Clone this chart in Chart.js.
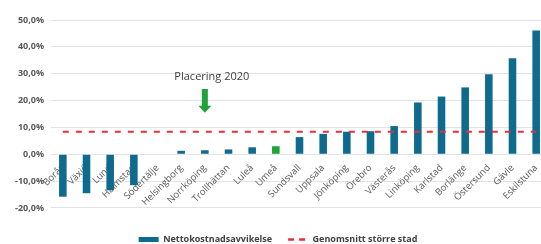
<!DOCTYPE html>
<html>
<head>
<meta charset="utf-8">
<script src="https://cdn.jsdelivr.net/npm/chart.js@4/dist/chart.umd.min.js"></script>
<style>
  html, body { margin: 0; padding: 0; background: #ffffff; overflow: hidden; }
  #wrap { position: relative; width: 548px; height: 244px; }
</style>
</head>
<body>
<div id="wrap"><canvas id="grafico"></canvas></div>
<script>
const kommuner = [
  "Borås", "Växjö", "Lund", "Halmstad", "Södertälje", "Helsingborg", "Norrköping",
  "Trollhättan", "Luleå", "Umeå", "Sundsvall", "Uppsala", "Jönköping", "Örebro",
  "Västerås", "Linköping", "Karlstad", "Borlänge", "Östersund", "Gävle", "Eskilstuna",
];
const avvikelse = [
  -15.8, -14.5, -13.4, -11.5, 0.0, 1.3, 1.5,
  1.8, 2.6, 3.0, 6.4, 7.6, 8.4, 8.6,
  10.5, 19.3, 21.5, 24.9, 29.8, 35.8, 46.1,
];
const genomsnitt = 8.4;
const yTicks = [-20, -10, 0, 10, 20, 30, 40, 50];
const markerad = "Umeå";
const placeringKommun = "Norrköping";
const placeringText = "Placering 2020";

const blaa = "#0f6b8e";
const gron = "#1fa33a";
const rod = "#e3313b";
const textFarg = "#595959";

const formatoProcent = (v) => v.toFixed(1).replace(".", ",") + "%";

const pluginPlacering = {
  id: "pluginPlacering",
  afterDatasetsDraw(chart) {
    const { ctx, scales } = chart;
    const x = scales.x.getPixelForValue(kommuner.indexOf(placeringKommun));
    const yText = scales.y.getPixelForValue(29);
    const yStart = scales.y.getPixelForValue(24.3);
    const yTip = scales.y.getPixelForValue(15.5);
    const headH = 7;

    ctx.save();
    ctx.font = "11px 'Open Sans'";
    ctx.fillStyle = "#404040";
    ctx.textAlign = "center";
    ctx.textBaseline = "middle";
    ctx.fillText(placeringText, x + 7, yText);

    ctx.fillStyle = gron;
    ctx.beginPath();
    ctx.moveTo(x - 3, yStart);
    ctx.lineTo(x + 3, yStart);
    ctx.lineTo(x + 3, yTip - headH);
    ctx.lineTo(x + 6.5, yTip - headH);
    ctx.lineTo(x, yTip);
    ctx.lineTo(x - 6.5, yTip - headH);
    ctx.lineTo(x - 3, yTip - headH);
    ctx.closePath();
    ctx.fill();
    ctx.restore();
  },
};

new Chart(document.getElementById("grafico").getContext("2d"), {
  data: {
    labels: kommuner,
    datasets: [
      {
        type: "line",
        label: "Genomsnitt större stad",
        data: kommuner.map(() => genomsnitt),
        borderColor: rod,
        borderWidth: 2,
        borderDash: [6, 7],
        pointRadius: 0,
        fill: false,
        order: 0,
      },
      {
        type: "bar",
        label: "Nettokostnadsavvikelse",
        data: avvikelse,
        backgroundColor: kommuner.map((k) => (k === markerad ? gron : blaa)),
        barPercentage: 0.32,
        categoryPercentage: 1,
        order: 1,
      },
    ],
  },
  options: {
    responsive: true,
    maintainAspectRatio: false,
    animation: false,
    layout: { padding: { top: 20, left: 8, right: 0, bottom: -10 } },
    scales: {
      x: {
        position: { y: 0 },
        grid: { display: false },
        border: { display: false },
        ticks: {
          color: textFarg,
          font: { family: "'Open Sans'", size: 9.5 },
          minRotation: 45,
          maxRotation: 45,
          autoSkip: false,
          padding: 0,
        },
      },
      y: {
        min: -24.1,
        max: 50,
        afterBuildTicks: (scale) => {
          scale.ticks = yTicks.map((v) => ({ value: v }));
        },
        grid: { color: "#e3e3e3", lineWidth: 1, drawTicks: false },
        border: { display: false },
        ticks: {
          color: textFarg,
          font: { family: "'Open Sans'", size: 9, weight: "bold" },
          padding: 7,
          callback: (v) => formatoProcent(v),
        },
      },
    },
    plugins: {
      legend: {
        position: "bottom",
        reverse: true,
        labels: {
          color: "#404040",
          font: { family: "'Open Sans'", size: 9, weight: "bold" },
          usePointStyle: true,
          pointStyleWidth: 20,
          boxHeight: 5,
          padding: 16,
          generateLabels: (chart) =>
            chart.data.datasets.map((ds, i) => {
              const esLinea = ds.type === "line";
              return {
                text: ds.label,
                datasetIndex: i,
                pointStyle: esLinea ? "line" : "rect",
                fillStyle: esLinea ? rod : blaa,
                strokeStyle: esLinea ? rod : blaa,
                lineWidth: esLinea ? 2.5 : 0,
                lineDash: esLinea ? [6, 5] : [],
                fontColor: "#404040",
                hidden: false,
              };
            }),
        },
      },
      tooltip: { enabled: false },
    },
  },
  plugins: [pluginPlacering],
});
</script>
</body>
</html>
